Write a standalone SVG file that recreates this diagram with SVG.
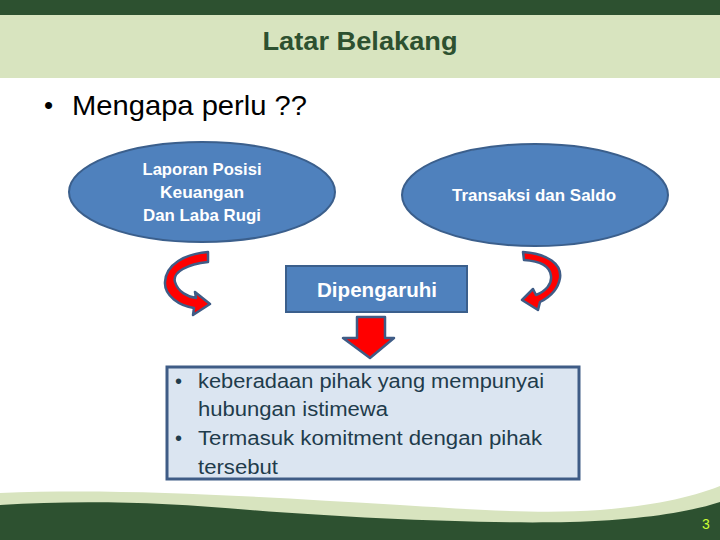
<svg xmlns="http://www.w3.org/2000/svg" width="720" height="540" viewBox="0 0 720 540">
<style>
.f{font-family:"Liberation Sans","DejaVu Sans",sans-serif}
.node{fill:#4f81bd;stroke:#3b5f8c;stroke-width:2}
.wt{fill:#ffffff;font-weight:bold;font-size:17px;text-anchor:middle}
.red{fill:#ff0000;stroke:#3f5c86;stroke-width:2.5;stroke-linejoin:round}
.bt{fill:#1f3c4c;font-size:20px}
</style>
<rect x="0" y="0" width="720" height="540" fill="#ffffff"/>
<rect x="0" y="0" width="720" height="15" fill="#2d5130"/>
<rect x="0" y="15" width="720" height="63" fill="#d8e4bf"/>
<text class="f" x="360" y="50" font-size="26" font-weight="bold" fill="#2d5130" text-anchor="middle" textLength="195" lengthAdjust="spacingAndGlyphs">Latar Belakang</text>
<text class="f" x="44" y="114" font-size="26" fill="#000000">•</text>
<text class="f" x="72" y="115" font-size="28" fill="#000000" textLength="235" lengthAdjust="spacingAndGlyphs">Mengapa perlu ??</text>

<g id="laporan">
<ellipse class="node" cx="202" cy="192" rx="133" ry="50"/>
<text class="f wt" x="202" y="175" textLength="119" lengthAdjust="spacingAndGlyphs">Laporan Posisi</text>
<text class="f wt" x="202" y="198" textLength="84" lengthAdjust="spacingAndGlyphs">Keuangan</text>
<text class="f wt" x="202" y="221" textLength="118" lengthAdjust="spacingAndGlyphs">Dan Laba Rugi</text>
</g>
<g id="transaksi">
<ellipse class="node" cx="535" cy="195" rx="133" ry="51"/>
<text class="f wt" x="534" y="201" textLength="164" lengthAdjust="spacingAndGlyphs">Transaksi dan Saldo</text>
</g>
<g id="dipengaruhi">
<rect class="node" x="286" y="266" width="181" height="46"/>
<text class="f" x="377" y="297" font-size="20" font-weight="bold" fill="#ffffff" text-anchor="middle" textLength="120" lengthAdjust="spacingAndGlyphs">Dipengaruhi</text>
</g>
<g id="keterangan">
<rect x="167" y="367" width="412" height="112" fill="#dbe5f1" stroke="#3f5c86" stroke-width="3"/>
<text class="f bt" x="175" y="388">•</text>
<text class="f bt" x="198" y="388" textLength="346" lengthAdjust="spacingAndGlyphs">keberadaan pihak yang mempunyai</text>
<text class="f bt" x="198" y="416" textLength="190" lengthAdjust="spacingAndGlyphs">hubungan istimewa</text>
<text class="f bt" x="175" y="445">•</text>
<text class="f bt" x="198" y="445" textLength="344" lengthAdjust="spacingAndGlyphs">Termasuk komitment dengan pihak</text>
<text class="f bt" x="198" y="474" textLength="80" lengthAdjust="spacingAndGlyphs">tersebut</text>
</g>
<g id="connectors">
<path class="red" d="M208,252 L208,262 C188,264 172,272 175,282 C178,292 188,297 196,298 L195,292 L210,304 L193,315 L194,308 C180,306 164,296 165,282 C166,264 185,254 208,252 Z"/>
<path class="red" d="M523,252 C548,254 562,264 560,278 C558,290 550,297 540,302 L538,310 L522,300 L533,289 L536,295 C546,291 552,284 551,276 C550,266 540,261 524,260 Z"/>
<path class="red" d="M357,317 L385,317 L385,338 L394,338 L370,358 L343,338 L357,338 Z"/>
</g>
<path d="M0,493 C120,488 250,496 400,505 C480,510 540,514 600,510 C650,506 690,498 720,486 L720,540 L0,540 Z" fill="#d8e4bf"/>
<path d="M0,505 C80,500 160,502 250,510 C350,518 480,524 570,522 C640,520 690,512 720,502 L720,540 L0,540 Z" fill="#2d5130"/>
<text class="f" x="702" y="529" font-size="14" fill="#ccff33">3</text>
</svg>
